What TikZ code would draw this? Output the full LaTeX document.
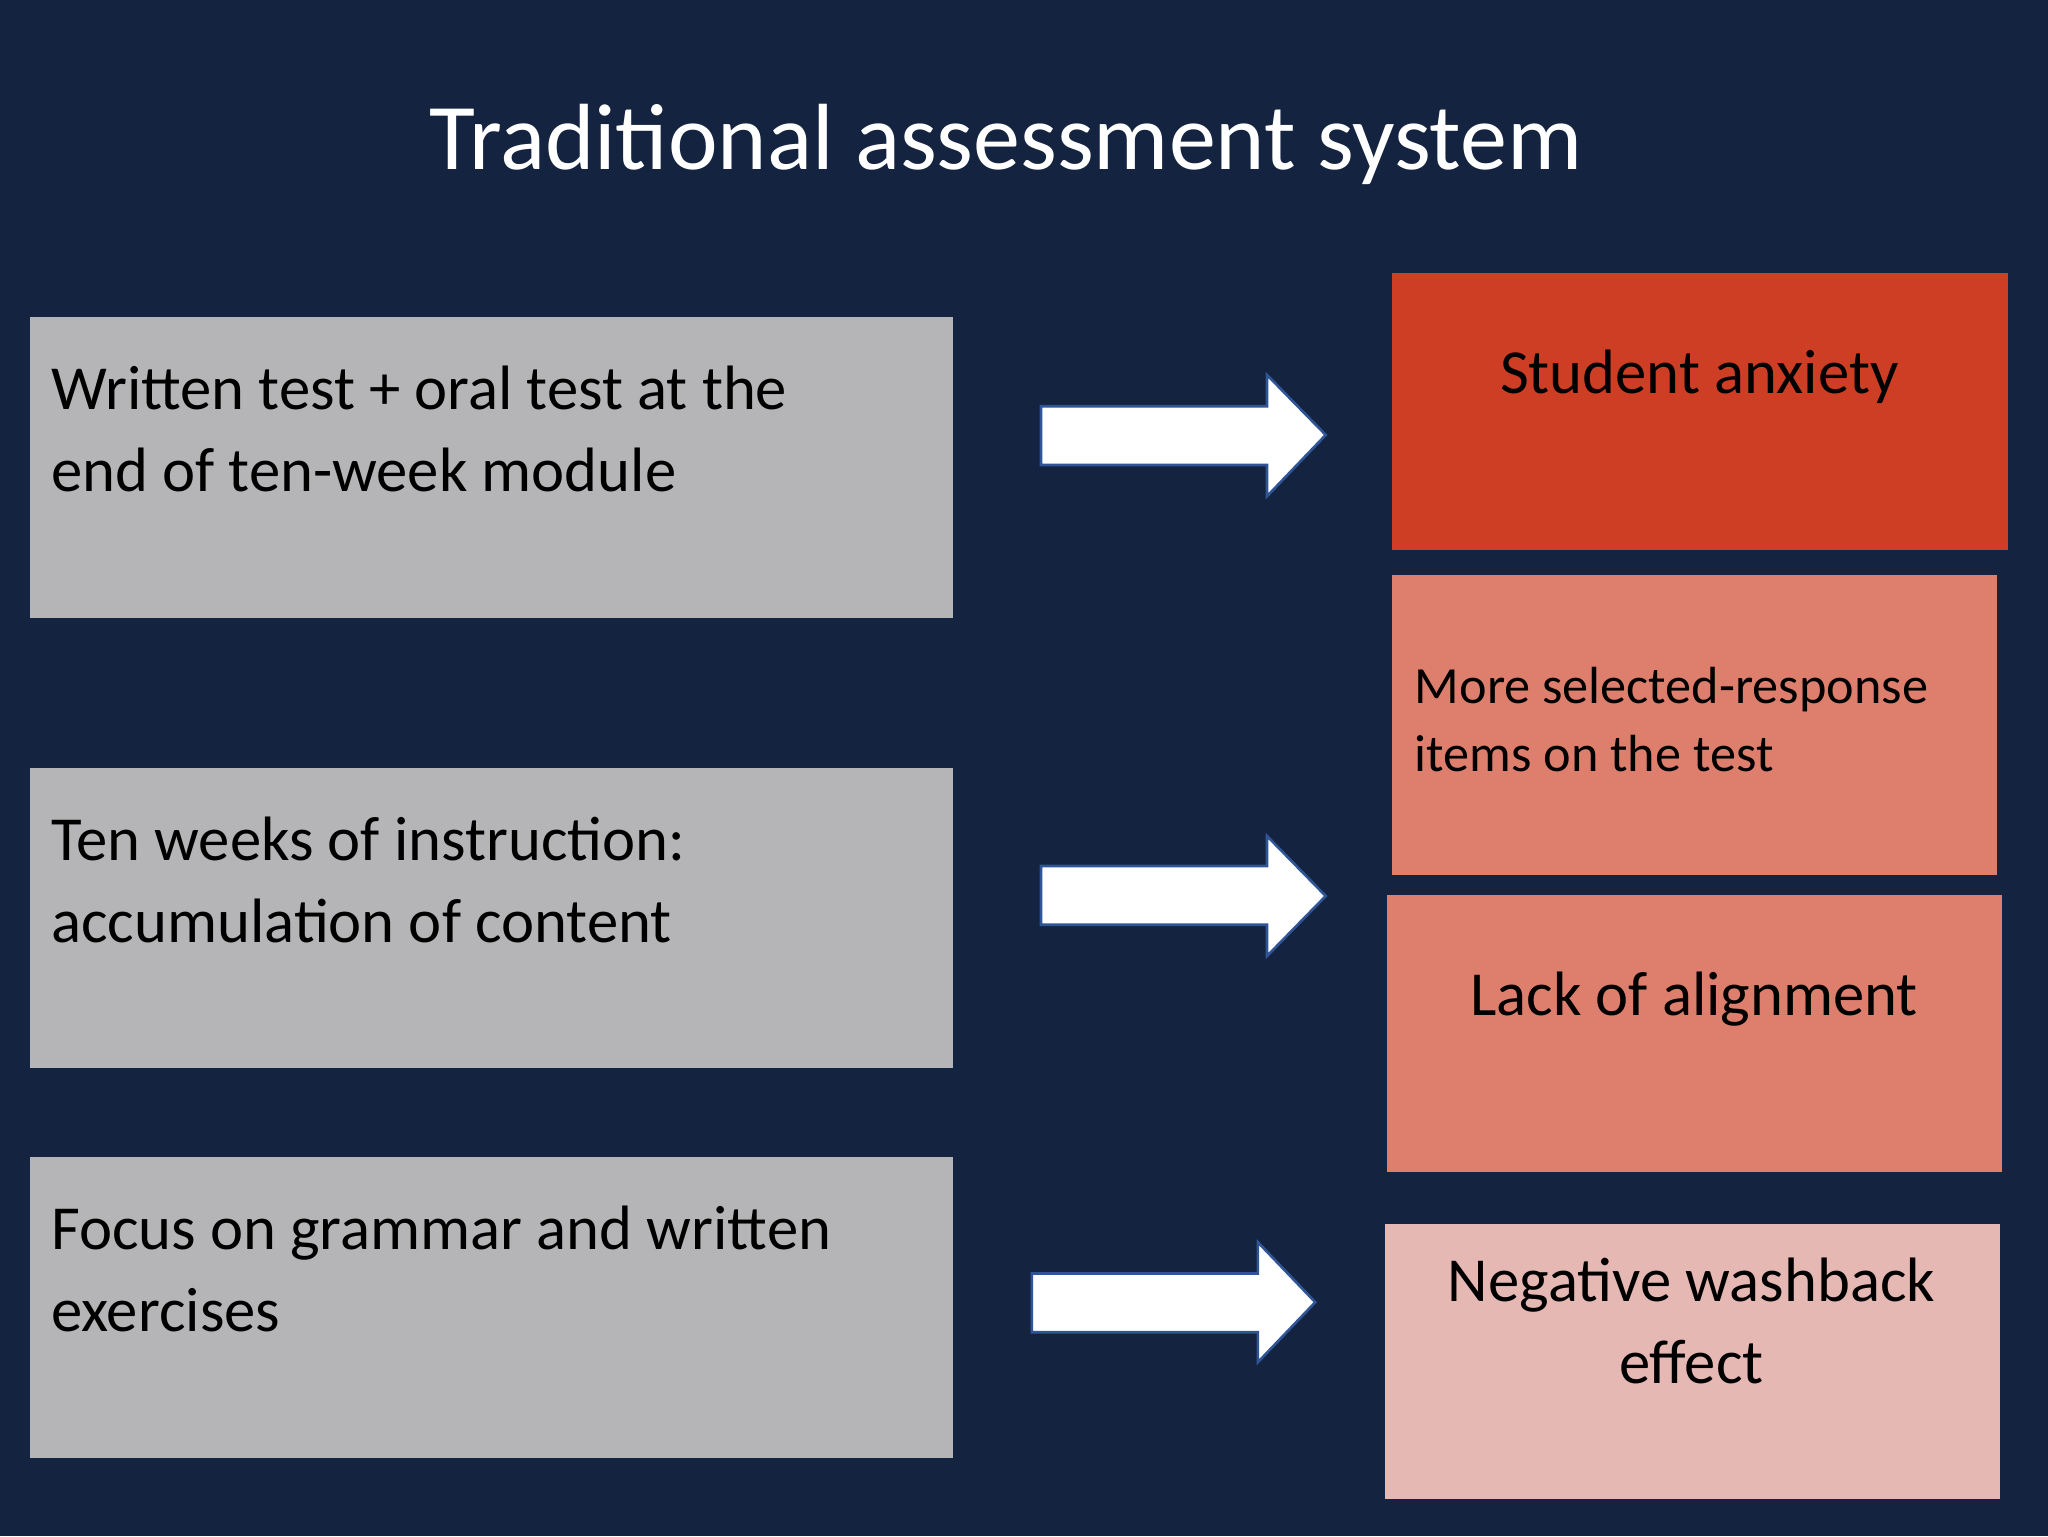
\documentclass[tikz,border=0pt]{standalone}
\usepackage{fontspec}
\setmainfont{Carlito}
\definecolor{bg}{HTML}{14233F}
\definecolor{gbox}{HTML}{B5B5B7}
\definecolor{r1}{HTML}{CD3E24}
\definecolor{r2}{HTML}{DE7F6E}
\definecolor{r3}{HTML}{E6B8B3}
\definecolor{aline}{HTML}{2F5597}
\begin{document}
\begin{tikzpicture}[x=1pt,y=-1pt,
  lbox/.style={fill=gbox,draw=none},
  ltext/.style={anchor=north west,align=left,font=\fontsize{48}{63}\selectfont,text=black,inner sep=0pt},
  rtext/.style={anchor=north,align=center,font=\fontsize{48}{63}\selectfont,text=black,inner sep=0pt},
  arr/.style={fill=white,draw=aline,line width=2pt,line join=miter}]
\fill[bg] (0,0) rectangle (1568,1176);
\useasboundingbox (0,0) rectangle (1568,1176);
\node[anchor=base,font=\fontsize{72}{80}\selectfont,text=white] (title) at (770,130) {Traditional assessment system};
% left boxes
\fill[lbox] (23,243) rectangle (730,473);
\node[ltext] (t1) at (39,280) {Written test + oral test at the\\end of ten-week module};
\fill[lbox] (23,588) rectangle (730,818);
\node[ltext] (t2) at (39,625) {Ten weeks of instruction:\\accumulation of content};
\fill[lbox] (23,886) rectangle (730,1116);
\node[ltext] (t3) at (39,923) {Focus on grammar and written\\exercises};
% right boxes
\fill[r1] (1066,209) rectangle (1537,421);
\node[rtext] (s1) at (1301,268) {Student anxiety};
\fill[r2] (1066,440) rectangle (1529,670);
\node[anchor=north west,align=left,font=\fontsize{40}{52}\selectfont,inner sep=0pt] (s2) at (1083,511) {More selected-response\\items on the test};
\fill[r2] (1062,685) rectangle (1533,897);
\node[rtext] (s3) at (1297,744) {Lack of alignment};
\fill[r3] (1060,937) rectangle (1531,1148);
\node[rtext] (s4) at (1295,963) {Negative washback\\effect};
% arrows
\draw[arr] (797,311) -- (970,311) -- (970,287) -- (1015,333) -- (970,380) -- (970,356) -- (797,356) -- cycle;
\draw[arr] (797,663) -- (970,663) -- (970,640) -- (1015,686) -- (970,732) -- (970,708) -- (797,708) -- cycle;
\draw[arr] (790,975) -- (963,975) -- (963,951) -- (1007,997) -- (963,1043) -- (963,1020) -- (790,1020) -- cycle;
\end{tikzpicture}
\end{document}
